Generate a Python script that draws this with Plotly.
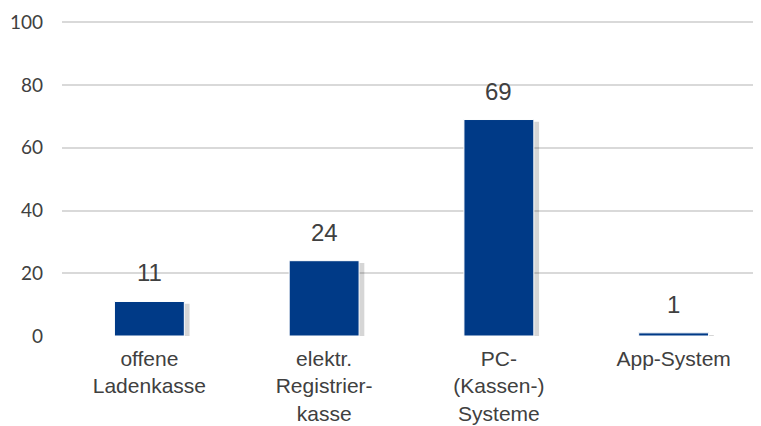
import plotly.graph_objects as go

categories = ["offene<br>Ladenkasse", "elektr.<br>Registrier-<br>kasse", "PC-<br>(Kassen-)<br>Systeme", "App-System"]
values = [11, 24, 69, 1]
labels = ["11", "24", "69", "1"]

fig = go.Figure()

# soft drop shadow behind bars
fig.add_trace(go.Bar(
    x=categories, y=values, width=0.41, offset=-0.18, base=-0.7,
    marker=dict(color="rgba(0,0,0,0.16)", line=dict(width=0)),
    hoverinfo="skip", showlegend=False,
))
fig.add_trace(go.Bar(
    x=categories, y=values, width=0.4, offset=-0.2,
    marker=dict(color="#003A87", line=dict(color="#ffffff", width=1)),
    hoverinfo="skip", showlegend=False,
))

for c, v, t in zip(categories, values, labels):
    fig.add_annotation(
        x=c, y=v, text=t, showarrow=False, yanchor="bottom", yshift=13,
        font=dict(family="Liberation Sans, Arial", size=24, color="#404040"),
    )

# page body adds an 8px margin, so the figure is sized to fit the window
fig.update_layout(
    width=753, height=418,
    margin=dict(l=54, r=0, t=13, b=90),
    paper_bgcolor="white", plot_bgcolor="white",
    barmode="overlay", bargap=0.6,
    font=dict(family="Liberation Sans, Arial", color="#404040"),
    xaxis=dict(
        showline=False, ticks="", showgrid=False, automargin=False,
        ticklabelstandoff=8,
        tickfont=dict(family="Liberation Sans, Arial", size=21, color="#404040"),
    ),
    yaxis=dict(
        range=[0, 100.4], dtick=20, showline=False, zeroline=False,
        automargin=False,
        gridcolor="#D9D9D9", gridwidth=1.5,
        ticks="", ticklabelstandoff=18,
        tickfont=dict(family="Lato", size=19, color="#404040"),
    ),
)

fig.write_html("out.html")
